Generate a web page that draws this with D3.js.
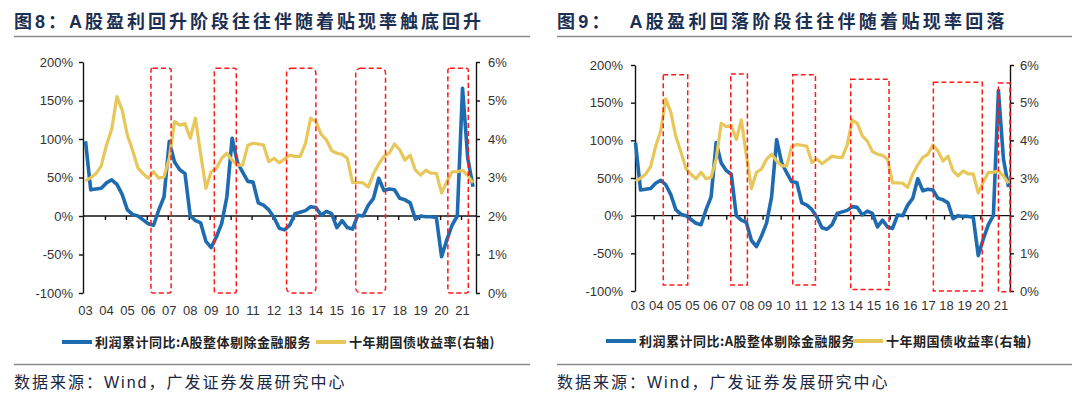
<!DOCTYPE html>
<html><head><meta charset="utf-8">
<script src="https://cdn.jsdelivr.net/npm/d3@7"></script>
<style>
body{margin:0;background:#fff;}
svg{display:block;}
</style></head><body>
<svg id="c" width="1080" height="394"></svg>
<script>
// ---------- data ----------
const quarters = d3.range(75).map(i => `${2003 + Math.floor(i / 4)}Q${i % 4 + 1}`);
const profitYoY = [97,34,35,36,43,47,41,28,8,2,0,-5,-10,-12,8,25,97,70,60,55,0,-6,-9,-33,-41,-27,-10,25,101,70,57,45,44,17,14,8,-2,-16,-18,-12,3,5,7,12,11,1,6,3,-15,-6,-15,-17,1,0,14,23,49,33,35,34,23,21,17,-4,0,-1,-1,-2,-53,-31,-12,0,166,75,38];
const bondYield = [2.91,3.0,3.1,3.3,3.84,4.25,5.1,4.75,4.1,3.7,3.25,3.1,2.98,3.15,2.98,3.02,3.5,4.45,4.36,4.4,4.02,4.54,3.6,2.72,3.15,3.24,3.5,3.63,3.45,3.32,3.32,3.84,3.89,3.87,3.84,3.41,3.5,3.38,3.48,3.58,3.55,3.55,3.88,4.54,4.45,4.12,3.98,3.7,3.63,3.6,3.5,2.87,2.87,2.86,2.75,3.1,3.35,3.55,3.63,3.87,3.72,3.45,3.58,3.19,3.06,3.19,3.11,3.11,2.6,2.89,3.15,3.15,3.19,3.05,2.86];
const leftTicks = [200,150,100,50,0,-50,-100];
const rightTicks = [6,5,4,3,2,1,0];
const xLabels8 = ["03","04","05","06","07","08","09","10","11","12","13","14","15","16","17","18","19","20","21"];
const xLabels9 = ["03","04","05","05","06","07","08","09","10","11","12","13","14","15","16","16","17","18","19","20","21"];
// highlight boxes: [startQuarterIdx, endQuarterIdx, topValue(%), bottomValue(%), cornerRadius]
const boxes8 = [[12.5,16.35,192,-100,2],[24.6,28.8,192,-100,2],[38.4,44.0,192,-100,5],[51.6,57.3,192,-100,5],[69.2,73.1,192,-100,2]];
const boxes9 = [[5.5,10.36,187,-92,0],[18.9,22.2,188,-92,0],[31.2,35.7,187,-92,0],[42.7,50.3,181,-98,0],[59.1,68.8,177,-100,0],[72.0,74.3,176,-101,0]];
const title8 = "图8：A股盈利回升阶段往往伴随着贴现率触底回升";
const title9 = "图9：  A股盈利回落阶段往往伴随着贴现率回落";
const seriesNames = ["利润累计同比:A股整体剔除金融服务","十年期国债收益率(右轴)"];
const source = "数据来源：Wind，广发证券发展研究中心";

const BLUE = "#1f6bb0", YELLOW = "#e8c75a", RED = "#ff1a1a";
const FONT = "'Liberation Sans', Arial, 'Noto Sans CJK SC', sans-serif";
const svg = d3.select("#c");

function drawChart(cfg) {
  const g = svg.append("g");
  // title
  g.append("text").attr("x", cfg.left).attr("y", 28)
    .attr("font-family", "'Liberation Sans', 'Noto Sans CJK SC', sans-serif")
    .attr("font-weight", "bold").attr("font-size", 18).attr("letter-spacing", cfg.titleSpacing)
    .attr("fill", "#1b2f52").style("white-space", "pre").text(cfg.title);
  g.append("line").attr("x1", cfg.left).attr("x2", cfg.right).attr("y1", 36.5).attr("y2", 36.5)
    .attr("stroke", "#8a8a8a").attr("stroke-width", 1.3);
  g.append("line").attr("x1", cfg.left).attr("x2", cfg.right).attr("y1", 364.5).attr("y2", 364.5)
    .attr("stroke", "#8a8a8a").attr("stroke-width", 1.3);
  g.append("text").attr("x", cfg.left).attr("y", 388)
    .attr("font-family", "'Liberation Sans', 'Noto Sans CJK SC', sans-serif")
    .attr("font-size", 16).attr("letter-spacing", "2px").attr("fill", "#1b2640").text(source);

  const x = d3.scaleLinear().domain([0, quarters.length - 1]).range(cfg.dataRange);
  const yL = d3.scaleLinear().domain([-100, 200]).range([cfg.yBottom, cfg.yTop]);
  const yR = d3.scaleLinear().domain([0, 6]).range([cfg.yBottom, cfg.yTop]);

  // axes
  const axL = g.append("g").attr("transform", `translate(${cfg.axL},0)`)
    .call(d3.axisLeft(yL).tickValues(leftTicks).tickFormat(d => d + "%").tickSize(4).tickSizeOuter(0).tickPadding(cfg.padL));
  const axR = g.append("g").attr("transform", `translate(${cfg.axR},0)`)
    .call(d3.axisRight(yR).tickValues(rightTicks).tickFormat(d => d + "%").tickSize(4).tickSizeOuter(0).tickPadding(cfg.padR));
  [axL, axR].forEach(a => {
    a.select(".domain").attr("stroke", "#111").attr("stroke-width", 1.4);
    a.selectAll(".tick line").attr("stroke", "#111").attr("stroke-width", 1.4);
    a.selectAll(".tick text").attr("font-family", FONT).attr("font-size", 13).attr("fill", "#333");
  });

  // zero line (x axis)
  const y0 = yL(0);
  g.append("line").attr("x1", cfg.axL).attr("x2", cfg.axR).attr("y1", y0).attr("y2", y0)
    .attr("stroke", "#111").attr("stroke-width", 1.4);
  cfg.labels.forEach((lab, k) => {
    const px = cfg.labelX(k);
    if (k > 0) g.append("line").attr("x1", px + cfg.tickShift).attr("x2", px + cfg.tickShift)
      .attr("y1", y0).attr("y2", y0 + 4).attr("stroke", "#111").attr("stroke-width", 1.4);
    g.append("text").attr("x", px).attr("y", cfg.labelY).attr("text-anchor", "middle")
      .attr("font-family", FONT).attr("font-size", 13).attr("fill", "#333").text(lab);
  });

  // lines
  const lineB = d3.line().x((d, i) => x(i)).y(d => yL(d));
  const lineY = d3.line().x((d, i) => x(i)).y(d => yR(d));
  g.append("path").datum(profitYoY).attr("d", lineB).attr("fill", "none")
    .attr("stroke", BLUE).attr("stroke-width", 3.6).attr("stroke-linejoin", "round");
  g.append("path").datum(bondYield).attr("d", lineY).attr("fill", "none")
    .attr("stroke", YELLOW).attr("stroke-width", 3.2).attr("stroke-linejoin", "round");

  // boxes
  cfg.boxes.forEach(b => {
    const x0 = x(b[0]), x1 = x(b[1]), t = yL(b[2]), bt = yL(b[3]);
    g.append("rect").attr("x", x0).attr("y", t).attr("width", x1 - x0).attr("height", bt - t)
      .attr("rx", b[4]).attr("fill", "none").attr("stroke", RED).attr("stroke-width", 1.5)
      .attr("stroke-dasharray", "5,3");
  });

  // legend
  const ly = cfg.legendY;
  [[BLUE, 0], [YELLOW, 1]].forEach(([col, j]) => {
    g.append("line").attr("x1", cfg.leg[j]).attr("x2", cfg.leg[j] + 30).attr("y1", ly).attr("y2", ly)
      .attr("stroke", col).attr("stroke-width", 4);
    g.append("text").attr("x", cfg.leg[j] + 33).attr("y", ly + 4.7)
      .attr("font-family", "'Noto Sans CJK SC', sans-serif").attr("font-weight", "bold")
      .attr("font-size", 13).attr("letter-spacing", "0.5px").attr("fill", "#222").text(seriesNames[j]);
  });
}

// chart 8
(function(){
  const xq = d3.scaleLinear().domain([0, quarters.length - 1]).range([85.5, 473]);
  drawChart({
    title: title8, titleSpacing: "3px", left: 14, right: 530,
    axL: 83, axR: 476, dataRange: [85.5, 473], yTop: 62, yBottom: 293,
    padL: 6, padR: 8,
    labels: xLabels8, labelX: k => xq(k * 4), labelY: 315, tickShift: -1,
    boxes: boxes8, legendY: 342, leg: [62, 316]
  });
})();
// chart 9
(function(){
  const xp = d3.scalePoint().domain(d3.range(xLabels9.length)).range([638, 1001]);
  drawChart({
    title: title9, titleSpacing: "3.3px", left: 557, right: 1072,
    axL: 635, axR: 1010, dataRange: [635.5, 1008.5], yTop: 65, yBottom: 291,
    padL: 8, padR: 6,
    labels: xLabels9, labelX: k => xp(k), labelY: 310, tickShift: -2,
    boxes: boxes9, legendY: 341, leg: [606, 853]
  });
})();
</script>
</body></html>
